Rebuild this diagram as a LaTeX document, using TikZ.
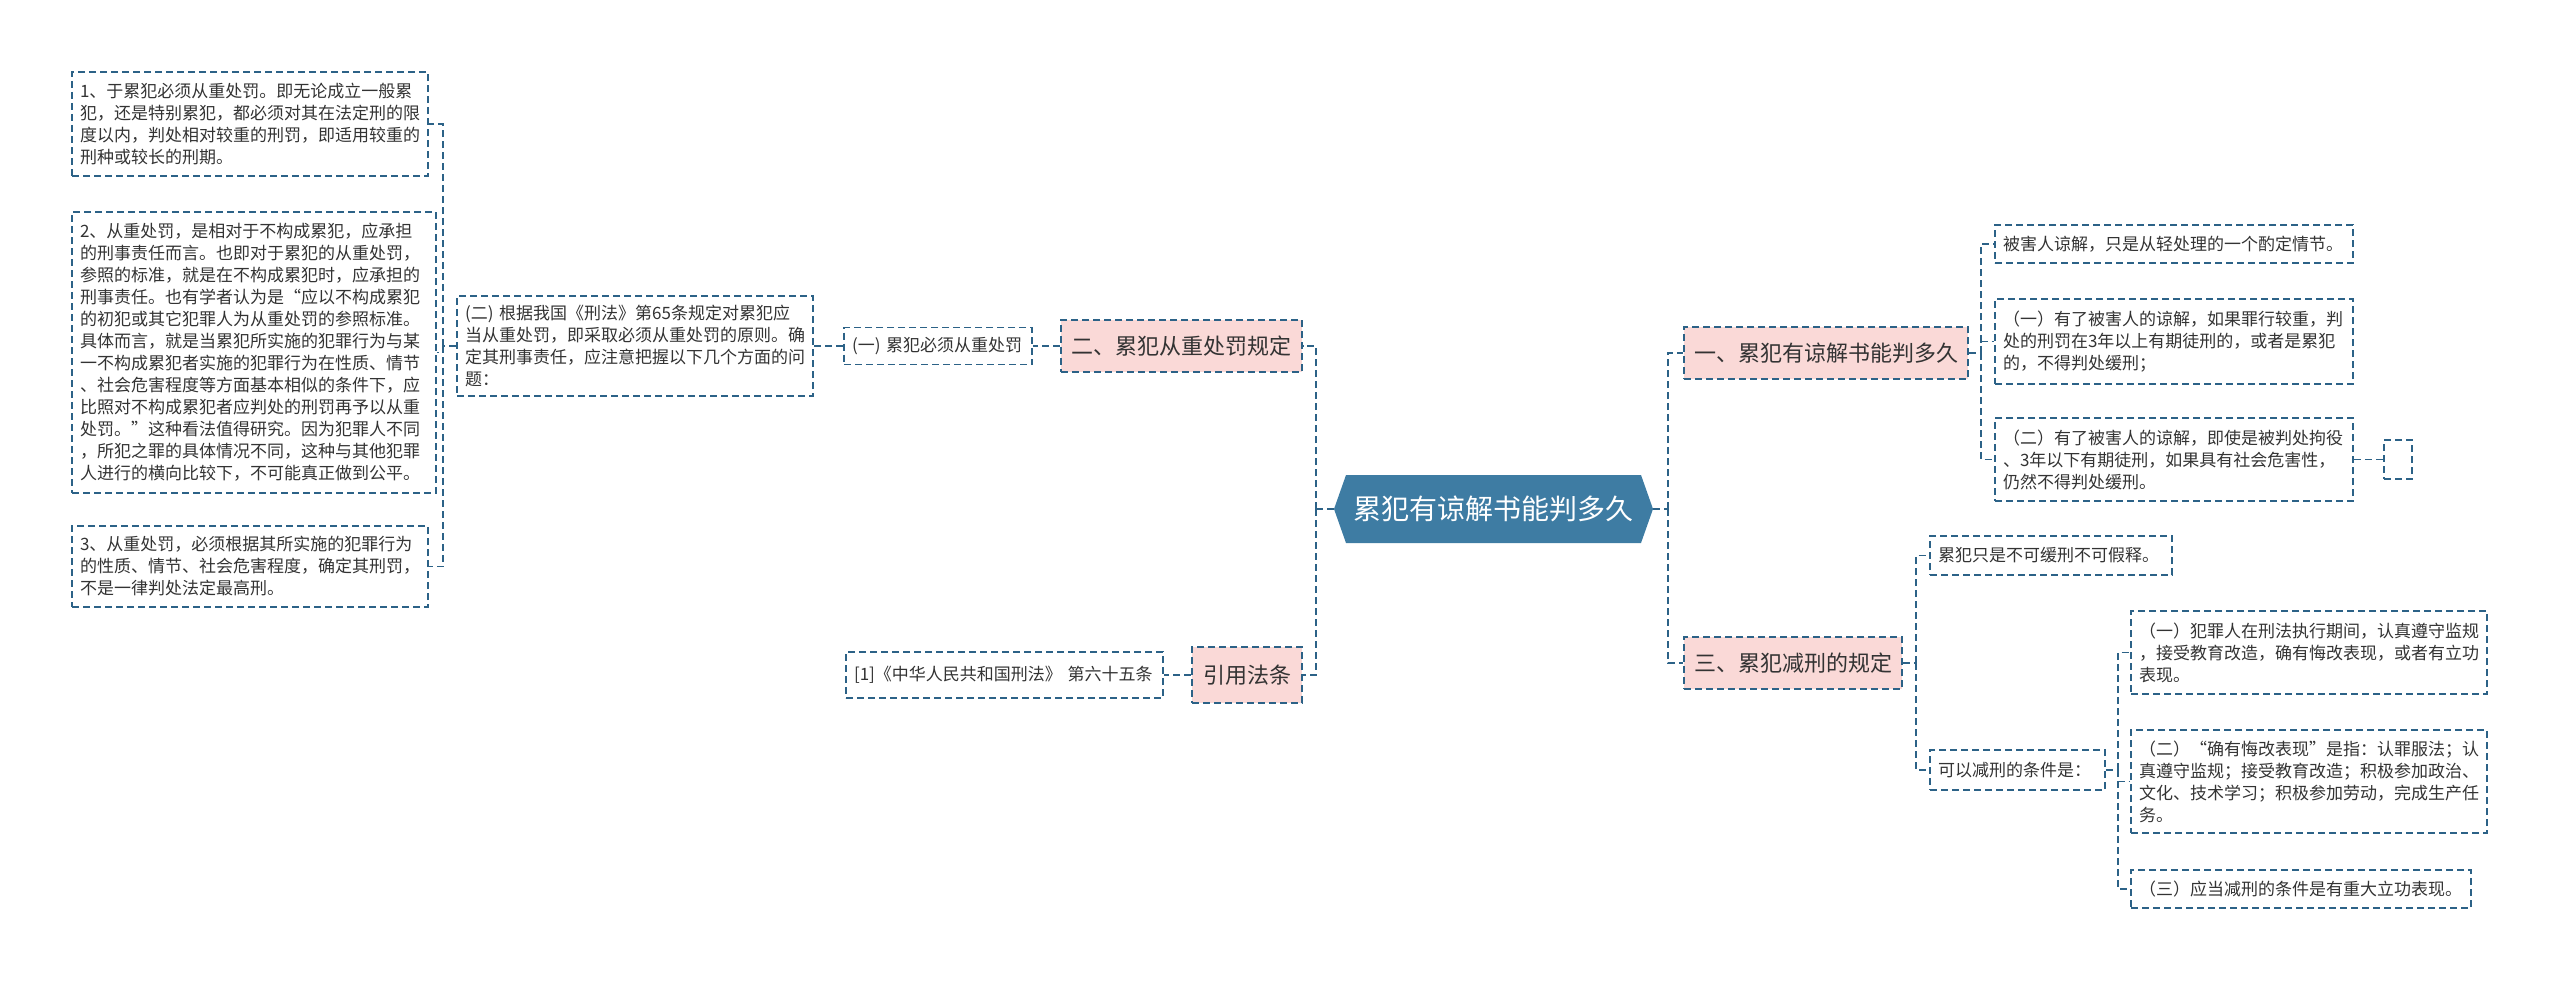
\documentclass[tikz,border=0pt]{standalone}
\usepackage{fontspec}
\setmainfont{Noto Sans CJK SC}
\definecolor{linec}{RGB}{44,98,135}
\definecolor{hexc}{RGB}{62,124,163}
\definecolor{pinkc}{RGB}{250,217,215}
\definecolor{txtc}{RGB}{51,51,51}
\tikzset{
  dline/.style={draw=linec, line width=1.6pt, dash pattern=on 7pt off 4pt},
  leaf/.style={dline, text=txtc, inner xsep=8pt, inner ysep=0pt, align=left, font=\fontsize{17}{22}\selectfont},
  topic/.style={dline, fill=pinkc, text=txtc, inner sep=0pt, align=center, font=\fontsize{22}{26}\selectfont},
  conn/.style={dline},
}
\begin{document}
\begin{tikzpicture}[x=1pt,y=-1pt]
\useasboundingbox (0,0) rectangle (2560,982);
% center
\fill[hexc] (1334,509) -- (1346,475) -- (1641,475) -- (1653,509) -- (1641,543) -- (1346,543) -- cycle;
\node[text=white, font=\fontsize{28}{32}\selectfont, minimum width=319pt, minimum height=68pt, inner sep=0pt] (C) at (1493.5,509) {累犯有谅解书能判多久};
% left side
\node[topic, minimum width=241pt, minimum height=52pt] (B2) at (1181.5,346) {二、累犯从重处罚规定};
\node[leaf, text width=172pt, minimum height=37pt] (B2a) at (938,346) {(一) 累犯必须从重处罚};
\node[leaf, text width=340pt, minimum height=100pt] (B21) at (635,346) {(二) 根据我国《刑法》第65条规定对累犯应\\当从重处罚，即采取必须从重处罚的原则。确\\定其刑事责任，应注意把握以下几个方面的问\\题：};
\node[leaf, text width=340pt, minimum height=104pt] (L1) at (250,124) {1、于累犯必须从重处罚。即无论成立一般累\\犯，还是特别累犯，都必须对其在法定刑的限\\度以内，判处相对较重的刑罚，即适用较重的\\刑种或较长的刑期。};
\node[leaf, text width=348pt, minimum height=281pt] (L2) at (254,352.5) {2、从重处罚，是相对于不构成累犯，应承担\\的刑事责任而言。也即对于累犯的从重处罚，\\参照的标准，就是在不构成累犯时，应承担的\\刑事责任。也有学者认为是“应以不构成累犯\\的初犯或其它犯罪人为从重处罚的参照标准。\\具体而言，就是当累犯所实施的犯罪行为与某\\一不构成累犯者实施的犯罪行为在性质、情节\\、社会危害程度等方面基本相似的条件下，应\\比照对不构成累犯者应判处的刑罚再予以从重\\处罚。”这种看法值得研究。因为犯罪人不同\\，所犯之罪的具体情况不同，这种与其他犯罪\\人进行的横向比较下，不可能真正做到公平。};
\node[leaf, text width=340pt, minimum height=81pt] (L3) at (250,566.5) {3、从重处罚，必须根据其所实施的犯罪行为\\的性质、情节、社会危害程度，确定其刑罚，\\不是一律判处法定最高刑。};
\node[topic, minimum width=110pt, minimum height=56pt] (B4) at (1247,675) {引用法条};
\node[leaf, text width=301pt, minimum height=46pt] (Ref) at (1004.5,675) {[1]《中华人民共和国刑法》 第六十五条};
% right side
\node[topic, minimum width=284pt, minimum height=52pt] (B1) at (1826,353) {一、累犯有谅解书能判多久};
\node[leaf, text width=342pt, minimum height=38pt] (R1) at (2174,244) {被害人谅解，只是从轻处理的一个酌定情节。};
\node[leaf, text width=342pt, minimum height=85pt] (R2) at (2174,341.5) {（一）有了被害人的谅解，如果罪行较重，判\\处的刑罚在3年以上有期徒刑的，或者是累犯\\的，不得判处缓刑；};
\node[leaf, text width=342pt, minimum height=83pt] (R3) at (2174,459.5) {（二）有了被害人的谅解，即使是被判处拘役\\、3年以下有期徒刑，如果具有社会危害性，\\仍然不得判处缓刑。};
\node[dline, minimum width=28pt, minimum height=39pt, inner sep=0pt] (E) at (2398,459.5) {};
\node[topic, minimum width=218pt, minimum height=52pt] (B3) at (1793,663) {三、累犯减刑的规定};
\node[leaf, text width=226pt, minimum height=39pt] (S1) at (2051,555.5) {累犯只是不可缓刑不可假释。};
\node[leaf, text width=159pt, minimum height=40pt] (S2) at (2017.5,770) {可以减刑的条件是：};
\node[leaf, text width=340pt, minimum height=83pt] (T1) at (2309,652.5) {（一）犯罪人在刑法执行期间，认真遵守监规\\，接受教育改造，确有悔改表现，或者有立功\\表现。};
\node[leaf, text width=340pt, minimum height=103pt] (T2) at (2309,781.5) {（二）“确有悔改表现”是指：认罪服法；认\\真遵守监规；接受教育改造；积极参加政治、\\文化、技术学习；积极参加劳动，完成生产任\\务。};
\node[leaf, text width=324pt, minimum height=38pt] (T3) at (2301,889) {（三）应当减刑的条件是有重大立功表现。};
% connectors left
\coordinate (JL) at (1316,509);
\draw[conn] (C.west) -- (JL);
\draw[conn] (JL) |- (B2.east);
\draw[conn] (JL) |- (B4.east);
\draw[conn] (B2.west) -- (B2a.east);
\draw[conn] (B2a.west) -- (B21.east);
\coordinate (JB) at (443,346);
\draw[conn] (B21.west) -- (JB);
\draw[conn] (JB) |- (L1.east);
\draw[conn] (JB) |- (L2.east);
\draw[conn] (JB) |- (L3.east);
\draw[conn] (B4.west) -- (Ref.east);
% connectors right
\coordinate (JR) at (1668,509);
\draw[conn] (C.east) -- (JR);
\draw[conn] (JR) |- (B1.west);
\draw[conn] (JR) |- (B3.west);
\coordinate (J1) at (1981,353);
\draw[conn] (B1.east) -- (J1);
\draw[conn] (J1) |- (R1.west);
\draw[conn] (J1) |- (R2.west);
\draw[conn] (J1) |- (R3.west);
\draw[conn] (R3.east) -- (E.west);
\coordinate (J3) at (1916,663);
\draw[conn] (B3.east) -- (J3);
\draw[conn] (J3) |- (S1.west);
\draw[conn] (J3) |- (S2.west);
\coordinate (J4) at (2118,770);
\draw[conn] (S2.east) -- (J4);
\draw[conn] (J4) |- (T1.west);
\draw[conn] (J4) |- (T2.west);
\draw[conn] (J4) |- (T3.west);
\end{tikzpicture}
\end{document}
